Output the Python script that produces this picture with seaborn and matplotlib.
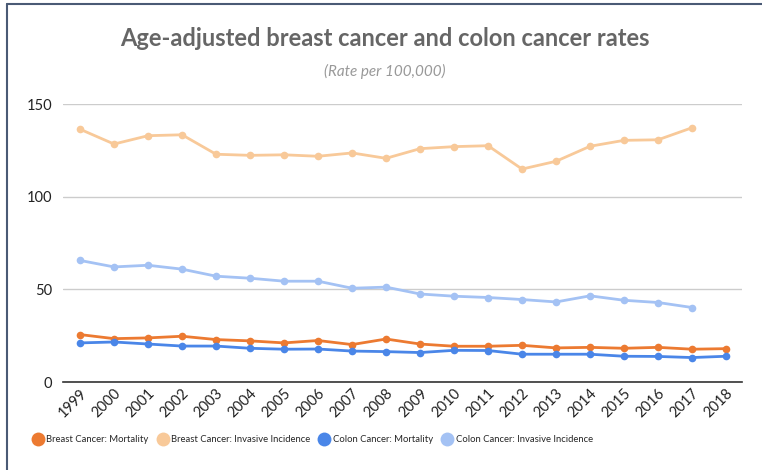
import numpy as np
import pandas as pd
import seaborn as sns
import matplotlib.pyplot as plt
from matplotlib.lines import Line2D

# Values (rate per 100,000)
years = list(range(1999, 2019))
breast_mortality = [25.6, 23.4, 23.8, 24.7, 22.9, 22.2, 21.1, 22.4, 20.2, 23.2,
                    20.5, 19.3, 19.3, 19.8, 18.4, 18.7, 18.2, 18.7, 17.7, 18.0]
breast_incidence = [136.4, 128.4, 132.9, 133.4, 122.9, 122.3, 122.6, 121.8, 123.6, 120.7,
                    125.9, 127.0, 127.5, 114.9, 119.1, 127.2, 130.4, 130.7, 137.2, np.nan]
colon_mortality = [21.1, 21.6, 20.5, 19.4, 19.4, 18.2, 17.7, 17.8, 16.7, 16.4,
                   15.9, 17.1, 17.0, 15.0, 15.0, 15.0, 13.9, 13.8, 13.2, 13.9]
colon_incidence = [65.6, 62.1, 63.0, 60.9, 57.1, 56.0, 54.4, 54.4, 50.6, 51.2,
                   47.5, 46.3, 45.6, 44.5, 43.2, 46.5, 44.1, 42.9, 40.2, np.nan]

series_names = ["Breast Cancer: Mortality", "Breast Cancer: Invasive Incidence",
                "Colon Cancer: Mortality", "Colon Cancer: Invasive Incidence"]
colors = ["#EC7A31", "#F8C999", "#4A86E8", "#A4C2F4"]

df = pd.concat([
    pd.DataFrame({"Year": years, "Rate": vals, "Series": name})
    for name, vals in zip(series_names,
                          [breast_mortality, breast_incidence, colon_mortality, colon_incidence])
]).dropna()

sns.set_style("white", {"axes.grid": False})
plt.rcParams["font.family"] = ["Lato", "DejaVu Sans"]

fig = plt.figure(figsize=(7.62, 4.70), dpi=100)
ax = fig.add_axes([0.0827, 0.1872, 0.8911, 0.5915])

sns.lineplot(data=df, x="Year", y="Rate", hue="Series", hue_order=series_names,
             palette=colors, marker="o", markersize=5.5, markeredgewidth=0,
             linewidth=2, legend=False, ax=ax, zorder=3)

ax.set_xlim(1998.5, 2018.47)
ax.set_ylim(0, 150)
ax.set_yticks([0, 50, 100, 150])
ax.set_xticks(years)
ax.set_xticklabels([str(y) for y in years], rotation=45, ha="right",
                   rotation_mode="anchor", fontsize=10.5, color="#222222")
ax.tick_params(axis="y", labelsize=10.5, labelcolor="#222222", length=0, pad=8)
ax.tick_params(axis="x", length=0, pad=3)
ax.yaxis.grid(True, color="#cccccc", linewidth=1)
ax.set_axisbelow(True)
ax.set_xlabel("")
ax.set_ylabel("")
sns.despine(ax=ax, left=True, top=True, right=True)
ax.spines["bottom"].set_color("#333333")
ax.spines["bottom"].set_linewidth(1.2)

fig.text(0.505, 0.918, "Age-adjusted breast cancer and colon cancer rates",
         ha="center", va="center", fontsize=17, fontweight="bold", color="#666666")
fig.text(0.505, 0.848, "(Rate per 100,000)", ha="center", va="center",
         fontsize=11, style="italic", color="#999999")

handles = [Line2D([], [], linestyle="none", marker="o", markersize=10,
                  markerfacecolor=c, markeredgewidth=0) for c in colors]
fig.legend(handles, series_names, loc="center left", bbox_to_anchor=(0.032, 0.064),
           ncol=4, frameon=False, handletextpad=0.4, columnspacing=1.0,
           handlelength=1.0, prop={"size": 6.8})

# screenshot frame on the left and top edges
fig.add_artist(Line2D([0.009, 0.009], [0, 0.992], transform=fig.transFigure,
                      color="#4a5a75", linewidth=1.5))
fig.add_artist(Line2D([0.009, 1], [0.992, 0.992], transform=fig.transFigure,
                      color="#4a5a75", linewidth=1.5))

plt.savefig("out.png", dpi=100)
